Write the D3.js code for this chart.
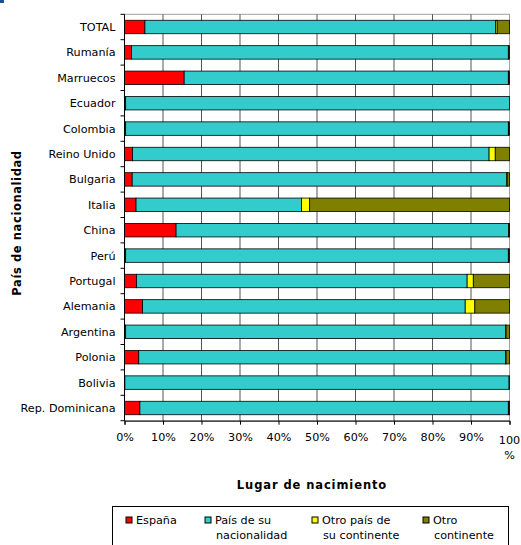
<!DOCTYPE html>
<html>
<head>
<meta charset="utf-8">
<script src="https://cdn.jsdelivr.net/npm/d3@7"></script>
<style>
    body { margin: 0; background: #fff; }
    text { font-family: "DejaVu Sans", Verdana, sans-serif; }
</style>
</head>
<body>
<div id="chart"></div>
<script>
// Categories (top to bottom) and series values in %
const paises = ['TOTAL', 'Rumanía', 'Marruecos', 'Ecuador', 'Colombia', 'Reino Unido', 'Bulgaria',
    'Italia', 'China', 'Perú', 'Portugal', 'Alemania', 'Argentina', 'Polonia', 'Bolivia', 'Rep. Dominicana'];
const espana = [5.3, 1.8, 15.5, 0.3, 0.3, 2.1, 2.0, 3.0, 13.4, 0.3, 3.1, 4.7, 0.3, 3.7, 0.1, 4.0];
const paisNacionalidad = [91.1, 97.9, 84.2, 99.7, 99.4, 92.6, 97.3, 43.0, 86.4, 99.4, 85.9, 83.8, 98.7, 95.3, 99.8, 95.7];
const otroPaisContinente = [0.4, 0.1, 0.1, 0, 0.1, 1.6, 0.1, 2.1, 0.1, 0.1, 1.6, 2.5, 0.1, 0.1, 0, 0.1];
const otroContinente = [3.2, 0.2, 0.2, 0, 0.2, 3.7, 0.6, 51.9, 0.1, 0.2, 9.4, 9.0, 0.9, 0.9, 0.1, 0.2];
const seriesNames = ['España', 'País de su|nacionalidad', 'Otro país de|su continente', 'Otro|continente'];
const seriesKeys = ['espana', 'pais', 'otroPais', 'otroCont'];
const xTicks = [0, 10, 20, 30, 40, 50, 60, 70, 80, 90, 100];

const colors = ['#FF0000', '#33CCCC', '#FFFF00', '#808000'];

const width = 521, height = 545;
const margin = { top: 14.3, left: 124.5 };
const innerW = 385, innerH = 406.4;

const svg = d3.select('#chart').append('svg')
    .attr('width', width)
    .attr('height', height);

// small blue mark in the top-left corner
svg.append('rect').attr('x', 0).attr('y', 0).attr('width', 4).attr('height', 3).attr('fill', '#1f4e99');

const chart = svg.append('g')
    .attr('transform', `translate(${margin.left},${margin.top})`);

// build table for the stack
const table = paises.map((p, i) => ({
    pais_nombre: p,
    espana: espana[i],
    pais: paisNacionalidad[i],
    otroPais: otroPaisContinente[i],
    otroCont: otroContinente[i]
}));

const xScale = d3.scaleLinear().domain([0, 100]).range([0, innerW]);
const yScale = d3.scaleBand().domain(paises).range([0, innerH]).paddingInner(0.47).paddingOuter(0.235);
const colorScale = d3.scaleOrdinal().domain(seriesKeys).range(colors);

// plot border (top and right in gray)
chart.append('rect')
    .attr('x', 0).attr('y', 0)
    .attr('width', innerW).attr('height', innerH)
    .attr('fill', '#fff')
    .attr('stroke', '#a0a0a0')
    .attr('stroke-width', 1);

// vertical grid lines
chart.selectAll('.grid')
    .data(xTicks.slice(1, -1))
    .join('line')
    .attr('class', 'grid')
    .attr('x1', d => xScale(d)).attr('x2', d => xScale(d))
    .attr('y1', 0).attr('y2', innerH)
    .attr('stroke', '#555')
    .attr('stroke-width', 1);

// stacked bars
const stack = d3.stack().keys(seriesKeys);
const stacked = stack(table);

chart.selectAll('.serie')
    .data(stacked)
    .join('g')
    .attr('class', 'serie')
    .attr('fill', d => colorScale(d.key))
    .selectAll('rect')
    .data(d => d)
    .join('rect')
    .attr('x', d => xScale(d[0]))
    .attr('y', d => yScale(d.data.pais_nombre))
    .attr('width', d => xScale(d[1]) - xScale(d[0]))
    .attr('height', yScale.bandwidth())
    .attr('stroke', '#000')
    .attr('stroke-width', 0.8);

// y axis: ticks between categories
const yAxisG = chart.append('g').attr('class', 'axis y-axis');
yAxisG.append('line')
    .attr('x1', 0).attr('x2', 0).attr('y1', 0).attr('y2', innerH)
    .attr('stroke', '#000');
yAxisG.selectAll('.ytick')
    .data(d3.range(paises.length + 1))
    .join('line')
    .attr('class', 'ytick')
    .attr('x1', -4).attr('x2', 0)
    .attr('y1', d => d * innerH / paises.length)
    .attr('y2', d => d * innerH / paises.length)
    .attr('stroke', '#000');
yAxisG.selectAll('.ylabel')
    .data(paises)
    .join('text')
    .attr('class', 'ylabel')
    .attr('x', -9)
    .attr('y', d => yScale(d) + yScale.bandwidth() / 2)
    .attr('dy', '0.35em')
    .attr('text-anchor', 'end')
    .attr('font-size', 11.2)
    .attr('fill', '#000')
    .text(d => d);

// x axis
const xAxis = d3.axisBottom(xScale)
    .tickValues(xTicks)
    .tickSize(4)
    .tickFormat(d => d === 100 ? '' : d + '%');
const xAxisG = chart.append('g')
    .attr('class', 'axis x-axis')
    .attr('transform', `translate(0,${innerH})`)
    .call(xAxis);
xAxisG.select('.domain').attr('stroke', '#000');
xAxisG.selectAll('text')
    .attr('font-size', 11.2)
    .attr('font-family', '"DejaVu Sans", Verdana, sans-serif')
    .attr('fill', '#000')
    .attr('y', 12);
// 100% label wraps on two lines
const lab100 = xAxisG.append('text')
    .attr('x', xScale(100))
    .attr('y', 23)
    .attr('text-anchor', 'middle')
    .attr('font-size', 11.2)
    .attr('fill', '#000');
lab100.append('tspan').attr('x', xScale(100)).text('100');
lab100.append('tspan').attr('x', xScale(100)).attr('dy', 15).text('%');

// axis titles
svg.append('text')
    .attr('x', 312)
    .attr('y', 489)
    .attr('text-anchor', 'middle')
    .attr('font-size', 11.5)
    .attr('font-weight', 'bold')
    .attr('letter-spacing', 0.9)
    .text('Lugar de nacimiento');

svg.append('text')
    .attr('transform', 'translate(21,223) rotate(-90)')
    .attr('text-anchor', 'middle')
    .attr('font-size', 11.5)
    .attr('font-weight', 'bold')
    .attr('letter-spacing', 0.6)
    .text('País de nacionalidad');

// legend
const legend = svg.append('g').attr('class', 'legend');
legend.append('rect')
    .attr('x', 112.5).attr('y', 506.5)
    .attr('width', 396).attr('height', 60)
    .attr('fill', '#fff')
    .attr('stroke', '#000');
const legendX = [126, 205, 312, 423];
const items = legend.selectAll('.item')
    .data(seriesKeys)
    .join('g')
    .attr('class', 'item')
    .attr('transform', (d, i) => `translate(${legendX[i]},0)`);
items.append('rect')
    .attr('x', 0).attr('y', 517)
    .attr('width', 6).attr('height', 6)
    .attr('fill', d => colorScale(d))
    .attr('stroke', '#000');
items.append('text')
    .attr('font-size', 11.2)
    .attr('fill', '#000')
    .each(function (d, i) {
        const lines = seriesNames[i].split('|');
        const t = d3.select(this);
        lines.forEach((l, j) => {
            t.append('tspan')
                .attr('x', j === 0 ? 10 : 11)
                .attr('y', 524 + j * 15)
                .text(l);
        });
    });
</script>
</body>
</html>
